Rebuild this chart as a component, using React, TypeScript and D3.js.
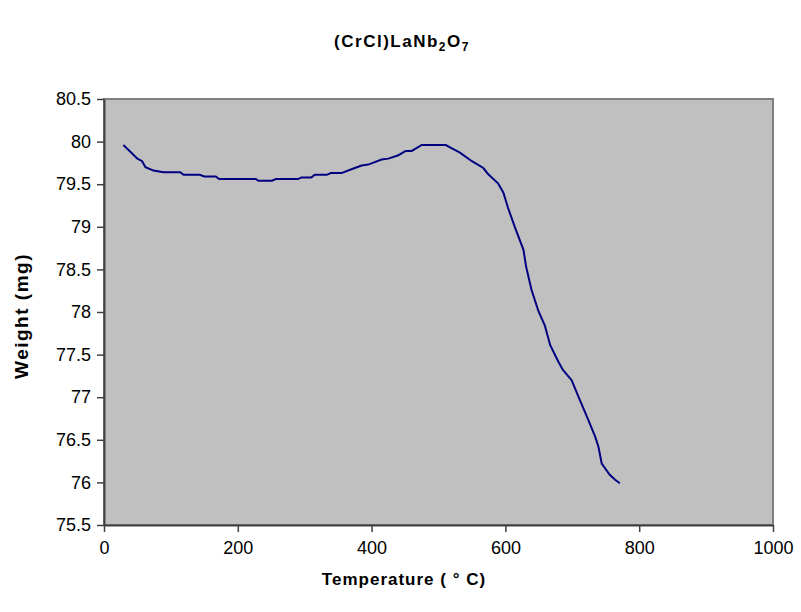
import React, { useEffect, useRef } from "react";
import * as d3 from "d3";

// TGA trace
const temperature = [
  29, 50, 57, 62, 74, 89, 114, 119, 143, 150, 167, 172, 227, 231, 251, 257, 290, 295,
  310, 315, 333, 339, 355, 368, 385, 395, 415, 425, 440, 451, 460, 475, 511, 520, 532,
  550, 567, 574, 589, 597, 604, 614, 627, 631, 639, 649, 659, 667, 679, 686, 699, 709,
  722, 734, 739, 744, 756, 764, 771,
];
const weight = [
  79.96, 79.8, 79.77, 79.7, 79.66, 79.64, 79.64, 79.61, 79.61, 79.59, 79.59, 79.56, 79.56,
  79.54, 79.54, 79.56, 79.56, 79.58, 79.58, 79.61, 79.61, 79.63, 79.63, 79.67, 79.72,
  79.73, 79.79, 79.8, 79.84, 79.89, 79.89, 79.96, 79.96, 79.92, 79.87, 79.77, 79.69,
  79.62, 79.51, 79.4, 79.22, 79.0, 78.73, 78.53, 78.26, 78.02, 77.84, 77.61, 77.42,
  77.32, 77.2, 77.01, 76.77, 76.54, 76.42, 76.22, 76.09, 76.03, 75.99,
];
const xTicks = [0, 200, 400, 600, 800, 1000];
const yTicks = [75.5, 76, 76.5, 77, 77.5, 78, 78.5, 79, 79.5, 80, 80.5];

const W = 801;
const H = 612;
const margin = { top: 99, right: 28, bottom: 87, left: 104 };

const App = () => {
  const ref = useRef<SVGSVGElement>(null);

  useEffect(() => {
    const svg = d3.select(ref.current);
    svg.selectAll("*").remove();

    const width = W - margin.left - margin.right;
    const height = H - margin.top - margin.bottom;
    const font = "Liberation Sans, Arial, sans-serif";

    const x = d3.scaleLinear().domain([0, 1000]).range([0, width]);
    const y = d3.scaleLinear().domain([75.5, 80.5]).range([height, 0]);

    const g = svg.append("g").attr("transform", `translate(${margin.left},${margin.top})`);

    g.append("rect")
      .attr("width", width)
      .attr("height", height)
      .attr("fill", "#c0c0c0")
      .attr("stroke", "#808080")
      .attr("stroke-width", 2);

    const xAxis = g
      .append("g")
      .attr("transform", `translate(0,${height})`)
      .call(
        d3.axisBottom(x).tickValues(xTicks).tickSize(7).tickSizeOuter(0).tickPadding(9)
          .tickFormat((d) => String(d))
      );
    const yAxis = g
      .append("g")
      .call(
        d3.axisLeft(y).tickValues(yTicks).tickSize(7).tickSizeOuter(0).tickPadding(6)
          .tickFormat((d) => String(d))
      );

    [xAxis, yAxis].forEach((a) => {
      a.select(".domain").attr("stroke", "#404040").attr("stroke-width", 2);
      a.selectAll(".tick line").attr("stroke", "#404040").attr("stroke-width", 1.5);
      a.selectAll("text").attr("font-family", font).attr("font-size", 18).attr("fill", "#000");
    });

    const pts = temperature.map((t, i) => [t, weight[i]] as [number, number]);
    const line = d3
      .line<[number, number]>()
      .x((d) => x(d[0]))
      .y((d) => y(d[1]));

    g.append("path")
      .datum(pts)
      .attr("d", line)
      .attr("fill", "none")
      .attr("stroke", "#000080")
      .attr("stroke-width", 2);

    // title with subscripts
    const title = svg
      .append("text")
      .attr("x", 402)
      .attr("y", 47)
      .attr("text-anchor", "middle")
      .attr("font-family", font)
      .attr("font-weight", "bold")
      .attr("font-size", 17)
      .attr("letter-spacing", 1.5);
    title.append("tspan").text("(CrCl)LaNb");
    title.append("tspan").attr("font-size", 12).attr("dy", 4).text("2");
    title.append("tspan").attr("dy", -4).text("O");
    title.append("tspan").attr("font-size", 12).attr("dy", 4).text("7");

    svg
      .append("text")
      .attr("x", 404)
      .attr("y", 585)
      .attr("text-anchor", "middle")
      .attr("font-family", font)
      .attr("font-weight", "bold")
      .attr("font-size", 17)
      .attr("letter-spacing", 1)
      .text("Temperature ( ° C)");

    svg
      .append("text")
      .attr("transform", `translate(28,316) rotate(-90)`)
      .attr("text-anchor", "middle")
      .attr("font-family", font)
      .attr("font-weight", "bold")
      .attr("font-size", 19)
      .attr("letter-spacing", 1.5)
      .text("Weight (mg)");
  }, []);

  return (
    <svg
      ref={ref}
      width={W}
      height={H}
      style={{ position: "absolute", left: 0, top: 0, background: "#fff" }}
    />
  );
};

export default App;
